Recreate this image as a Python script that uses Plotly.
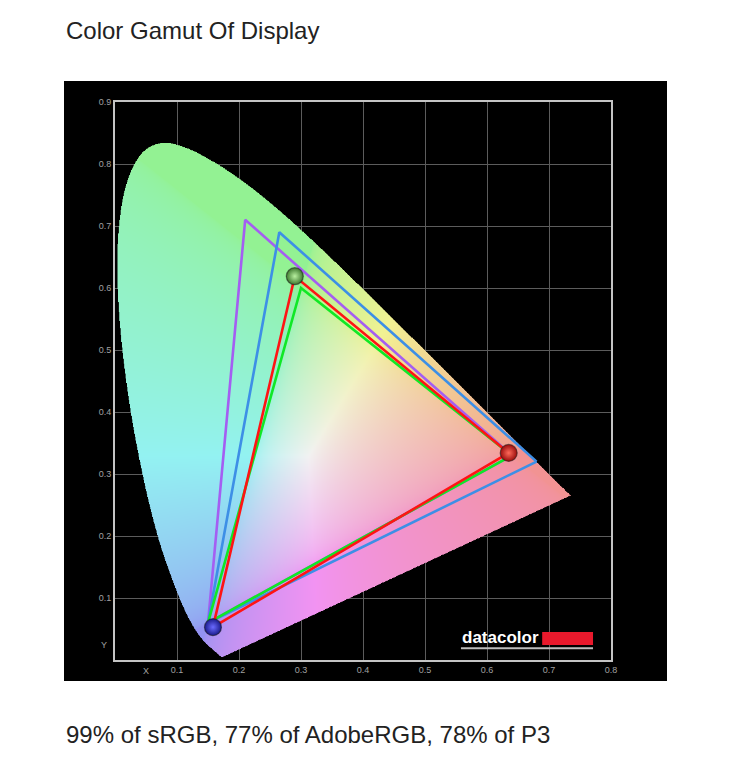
import base64
import struct
import zlib
import numpy as np
import plotly.graph_objects as go

# CIE 1931 2-degree spectral locus (380-700 nm)
locus_x = [0.1741, 0.1740, 0.1738, 0.1736, 0.1733, 0.1730, 0.1726, 0.1721, 0.1714, 0.1703,
           0.1689, 0.1669, 0.1644, 0.1611, 0.1566, 0.1510, 0.1440, 0.1355, 0.1241, 0.1096,
           0.0913, 0.0687, 0.0454, 0.0235, 0.0082, 0.0039, 0.0139, 0.0389, 0.0743, 0.1142,
           0.1547, 0.1929, 0.2296, 0.2658, 0.3016, 0.3373, 0.3731, 0.4087, 0.4441, 0.4788,
           0.5125, 0.5448, 0.5752, 0.6029, 0.6270, 0.6482, 0.6658, 0.6801, 0.6915, 0.7006,
           0.7079, 0.7140, 0.7190, 0.7230, 0.7260, 0.7283, 0.7300, 0.7311, 0.7320, 0.7334,
           0.7344, 0.7347]
locus_y = [0.0050, 0.0050, 0.0049, 0.0049, 0.0048, 0.0048, 0.0048, 0.0048, 0.0051, 0.0058,
           0.0069, 0.0086, 0.0109, 0.0138, 0.0177, 0.0227, 0.0297, 0.0399, 0.0578, 0.0868,
           0.1327, 0.2007, 0.2950, 0.4127, 0.5384, 0.6548, 0.7502, 0.8120, 0.8338, 0.8262,
           0.8059, 0.7816, 0.7543, 0.7243, 0.6923, 0.6589, 0.6245, 0.5896, 0.5547, 0.5202,
           0.4866, 0.4544, 0.4242, 0.3965, 0.3725, 0.3514, 0.3340, 0.3197, 0.3083, 0.2993,
           0.2920, 0.2859, 0.2809, 0.2770, 0.2740, 0.2717, 0.2700, 0.2689, 0.2680, 0.2666,
           0.2656, 0.2653]

# gamut triangles (R, G, B primaries)
adobe_x = [0.64, 0.21, 0.15]
adobe_y = [0.33, 0.71, 0.06]
p3_x = [0.68, 0.265, 0.15]
p3_y = [0.32, 0.69, 0.06]
srgb_x = [0.64, 0.30, 0.15]
srgb_y = [0.33, 0.60, 0.06]
display_x = [0.635, 0.290, 0.158]
display_y = [0.334, 0.619, 0.053]

grid_ticks = [0.1, 0.2, 0.3, 0.4, 0.5, 0.6, 0.7, 0.8, 0.9]
title_text = "Color Gamut Of Display"
caption_text = "99% of sRGB, 77% of AdobeRGB, 78% of P3"

W, H = 731, 770
OFF = 8  # page body margin
FONT = "Liberation Sans, Arial, sans-serif"


def smooth_outline(vx, vy, n=10):
    # catmull-rom curve through the locus points, only for drawing a rounded edge
    px = np.array([vx[0]] + list(vx) + [vx[-1]])
    py = np.array([vy[0]] + list(vy) + [vy[-1]])
    ox, oy = [], []
    t = np.linspace(0, 1, n, endpoint=False)
    for i in range(1, len(px) - 2):
        for arr, out in ((px, ox), (py, oy)):
            p0, p1, p2, p3 = arr[i - 1], arr[i], arr[i + 1], arr[i + 2]
            out.extend(0.5 * (2 * p1 + (-p0 + p2) * t + (2 * p0 - 5 * p1 + 4 * p2 - p3) * t ** 2
                              + (-p0 + 3 * p1 - 3 * p2 + p3) * t ** 3))
    ox.append(vx[-1])
    oy.append(vy[-1])
    return ox, oy


def inside_polygon(px, py, vx, vy):
    res = np.zeros(px.shape, dtype=bool)
    n = len(vx)
    j = n - 1
    for i in range(n):
        xi, yi, xj, yj = vx[i], vy[i], vx[j], vy[j]
        cond = (yi > py) != (yj > py)
        xc = (xj - xi) * (py - yi) / ((yj - yi) if yj != yi else 1e-12) + xi
        res ^= cond & (px < xc)
        j = i
    return res


def chroma_png(step=0.001, xmax=0.75, ymax=0.85):
    xs = np.arange(0, xmax, step) + step / 2
    ys = np.arange(0, ymax, step) + step / 2
    gx, gy = np.meshgrid(xs, ys)
    ox, oy = smooth_outline(locus_x, locus_y)
    mask = inside_polygon(gx, gy, ox, oy)
    yy = np.maximum(gy, 1e-4)
    X = gx / yy
    Z = (1 - gx - gy) / yy
    r = 3.2406 * X - 1.5372 - 0.4986 * Z
    g = -0.9689 * X + 1.8758 + 0.0415 * Z
    b = 0.0557 * X - 0.2040 + 1.0570 * Z
    rgb = np.clip(np.stack([r, g, b], axis=-1), 0, None)
    rgb = rgb / np.maximum(rgb.max(axis=-1, keepdims=True), 1e-6)
    rgb = rgb ** (1 / 2.2)
    rgb = 0.58 + 0.37 * rgb
    img = np.zeros(gx.shape + (4,), dtype=np.uint8)
    img[..., :3] = np.clip(rgb * 255, 0, 255).astype(np.uint8)
    img[..., 3] = np.where(mask, 255, 0).astype(np.uint8)
    h, w, _ = img.shape
    raw = b"".join(b"\x00" + img[i].tobytes() for i in range(h))

    def chunk(t, d):
        c = t + d
        return struct.pack(">I", len(d)) + c + struct.pack(">I", zlib.crc32(c) & 0xFFFFFFFF)

    png = (b"\x89PNG\r\n\x1a\n"
           + chunk(b"IHDR", struct.pack(">IIBBBBB", w, h, 8, 6, 0, 0, 0))
           + chunk(b"IDAT", zlib.compress(raw, 9))
           + chunk(b"IEND", b""))
    return "data:image/png;base64," + base64.b64encode(png).decode(), step


def closed(v):
    return list(v) + [v[0]]


src, step = chroma_png()

fig = go.Figure()
fig.add_trace(go.Image(source=src, x0=step / 2, dx=step, y0=step / 2, dy=step,
                       zsmooth="fast", hoverinfo="skip"))

for xs, ys, col in [(adobe_x, adobe_y, "#a45ef2"), (p3_x, p3_y, "#3d8fe6"),
                    (srgb_x, srgb_y, "#10e826"), (display_x, display_y, "#ff1414")]:
    fig.add_trace(go.Scatter(x=closed(xs), y=closed(ys), mode="lines",
                             line=dict(color=col, width=2.6), hoverinfo="skip"))

# measured primaries as little spheres (radial gradient: edge colour -> centre colour)
fig.add_trace(go.Scatter(
    x=display_x, y=display_y, mode="markers", hoverinfo="skip",
    marker=dict(size=17, color=["#9a0c0c", "#3d7a2e", "#1a1a8a"],
                gradient=dict(type="radial", color=["#ff6a5a", "#b8f0a0", "#6a6aff"]),
                line=dict(color="rgba(30,30,30,0.55)", width=1.2))))

# plot area in page pixels: x 115..611, y 102..660
L, R, T, B = 115 - OFF, 611 - OFF, 102 - OFF, 660 - OFF
pw, ph = R - L, B - T
FW, FH = W - OFF, H - OFF


def paper_x(px):
    return (px - OFF - L) / pw


def paper_y(py):
    return (B - (py - OFF)) / ph


shapes = [dict(type="rect", xref="paper", yref="paper", layer="below",
               x0=paper_x(64), x1=paper_x(667), y0=paper_y(681), y1=paper_y(81),
               fillcolor="black", line=dict(width=0)),
          # datacolor logo
          dict(type="rect", xref="x", yref="y", x0=0.689, x1=0.771, y0=0.024, y1=0.045,
               fillcolor="#e8192c", line=dict(width=0)),
          dict(type="line", xref="x", yref="y", x0=0.558, x1=0.771, y0=0.019, y1=0.019,
               line=dict(color="#bdbdbd", width=2))]

annotations = [
    dict(text=title_text, xref="paper", yref="paper", x=paper_x(64), y=paper_y(31),
         xanchor="left", yanchor="middle", showarrow=False,
         font=dict(family=FONT, size=24, color="#222222")),
    dict(text=caption_text, xref="paper", yref="paper", x=paper_x(64), y=paper_y(734),
         xanchor="left", yanchor="middle", showarrow=False,
         font=dict(family=FONT, size=24, color="#222222")),
    dict(text="X", xref="x", yref="paper", x=0.05, y=paper_y(671), xanchor="center",
         yanchor="middle", showarrow=False, font=dict(family=FONT, size=9, color="#a0a0a0")),
    dict(text="Y", xref="paper", yref="y", x=paper_x(109), y=0.025, xanchor="right",
         yanchor="middle", showarrow=False, font=dict(family=FONT, size=9, color="#a0a0a0")),
    dict(text="<b>datacolor</b>", xref="x", yref="y", x=0.556, y=0.0355, xanchor="left",
         yanchor="middle", showarrow=False, font=dict(family=FONT, size=17, color="white")),
]

fig.update_layout(
    width=FW, height=FH,
    margin=dict(l=L, r=FW - R, t=T, b=FH - B, pad=0),
    paper_bgcolor="white", plot_bgcolor="rgba(0,0,0,0)",
    showlegend=False,
    shapes=shapes, annotations=annotations,
    xaxis=dict(range=[0, 0.8], tickvals=grid_ticks[:-1], ticktext=["%.1f" % v for v in grid_ticks[:-1]],
               showgrid=True, gridcolor="#5c5c5c", gridwidth=1, zeroline=False,
               showline=True, mirror=True, linecolor="#c4c4c4", linewidth=2, ticks="",
               tickfont=dict(family=FONT, size=9, color="#a0a0a0")),
    yaxis=dict(range=[0, 0.9], tickvals=grid_ticks, ticktext=["%.1f" % v for v in grid_ticks],
               showgrid=True, gridcolor="#5c5c5c", gridwidth=1, zeroline=False,
               showline=True, mirror=True, linecolor="#c4c4c4", linewidth=2, ticks="",
               tickfont=dict(family=FONT, size=9, color="#a0a0a0")),
)

fig.write_html("out.html")
